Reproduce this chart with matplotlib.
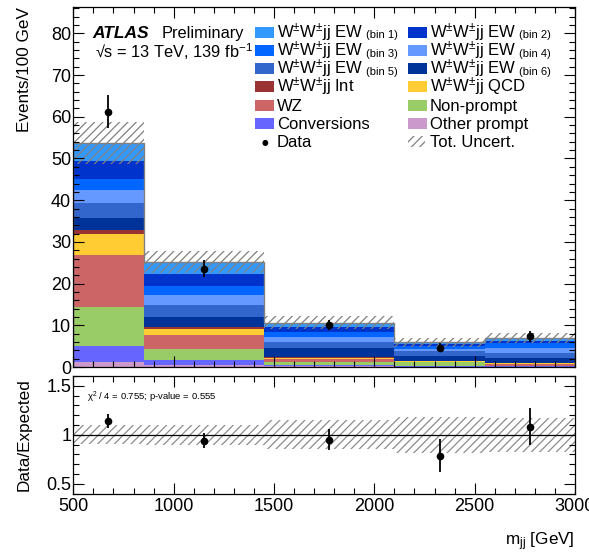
import numpy as np
import matplotlib
matplotlib.use("Agg")
import matplotlib.pyplot as plt
from matplotlib.patches import Rectangle
from matplotlib.ticker import MultipleLocator, FuncFormatter

plt.rcParams['font.family'] = ['Liberation Sans', 'DejaVu Sans']
plt.rcParams['mathtext.default'] = 'regular'
plt.rcParams['hatch.linewidth'] = 0.9

# ---------------- data ----------------
edges = [500, 850, 1450, 2100, 2550, 3000]
other_prompt = [1.2, 0.4, 0.15, 0.05, 0.05]
conversions = [3.8, 1.2, 0.40, 0.10, 0.10]
non_prompt = [9.4, 2.8, 0.75, 1.00, 0.15]
wz = [12.4, 3.2, 0.55, 0.12, 0.45]
qcd = [5.2, 1.4, 0.40, 0.08, 0.15]
interference = [0.9, 0.6, 0.25, 0.02, 0.05]
ew_bin6 = [2.9, 2.4, 2.0, 1.2, 1.15]
ew_bin5 = [3.5, 2.8, 1.45, 1.2, 1.2]
ew_bin4 = [3.1, 2.4, 1.35, 0.65, 1.2]
ew_bin3 = [2.8, 2.2, 1.2, 0.5, 1.2]
ew_bin2 = [4.2, 3.0, 1.2, 0.6, 0.65]
ew_bin1 = [4.3, 2.7, 0.95, 0.4, 0.5]
tot_unc = [5.1, 2.6, 1.6, 1.1, 1.2]
data_x = [675, 1150, 1775, 2325, 2775]
data_y = [61.2, 23.6, 10.1, 4.65, 7.4]
data_err = [4.0, 1.95, 1.15, 1.0, 1.3]
chi2_text = "χ$^{2}$ / 4 = 0.755; p-value = 0.555"

WW = "W$^{\\pm}$W$^{\\pm}$jj"
# (key, values, colour, legend main text, legend small suffix)
components = [
    ("other", other_prompt, "#cc99cc", "Other prompt", ""),
    ("conv", conversions, "#6666ff", "Conversions", ""),
    ("np", non_prompt, "#99cc66", "Non-prompt", ""),
    ("wz", wz, "#cc6666", "WZ", ""),
    ("qcd", qcd, "#ffcc33", WW + " QCD", ""),
    ("int", interference, "#993333", WW + " Int", ""),
    ("ew6", ew_bin6, "#003399", WW + " EW", "(bin 6)"),
    ("ew5", ew_bin5, "#3366cc", WW + " EW", "(bin 5)"),
    ("ew4", ew_bin4, "#6699ff", WW + " EW", "(bin 4)"),
    ("ew3", ew_bin3, "#0066ff", WW + " EW", "(bin 3)"),
    ("ew2", ew_bin2, "#0033cc", WW + " EW", "(bin 2)"),
    ("ew1", ew_bin1, "#3399ff", WW + " EW", "(bin 1)"),
]
legend_col1 = ["ew1", "ew3", "ew5", "int", "wz", "conv", "data"]
legend_col2 = ["ew2", "ew4", "ew6", "qcd", "np", "other", "unc"]

W, H = 589, 552
edges_a = np.array(edges, dtype=float)
fig = plt.figure(figsize=(W / 100, H / 100), dpi=100)
ax = fig.add_axes([73.3 / W, 1 - 367 / H, 501.7 / W, 360.3 / H])
rax = fig.add_axes([73.3 / W, 1 - 493.5 / H, 501.7 / W, 117.5 / H])

bottom = np.zeros(len(edges) - 1)
info = {}
for key, vals, col, lab, sub in components:
    v = np.array(vals)
    ax.stairs(bottom + v, edges_a, baseline=bottom, fill=True, color=col, lw=0)
    info[key] = (col, lab, sub)
    bottom = bottom + v
total = bottom
ax.stairs(total, edges_a, baseline=0, color='#808080', lw=1.0)

unc = np.array(tot_unc)
ax.stairs(total + unc, edges_a, baseline=total - unc, fill=True,
          facecolor='none', edgecolor='#808080', hatch='////', lw=0)

ax.errorbar(data_x, data_y, yerr=data_err, fmt='o', color='black',
            ms=4.5, elinewidth=1.3, capsize=0, zorder=5)

ax.set_xlim(500, 3000)
ax.set_ylim(0, 86.4)
ax.set_xticklabels([])
ax.set_ylabel("Events/100 GeV", fontsize=12.3, loc='top')
ax.yaxis.set_label_coords(-0.083, 1.0)

# ATLAS labels
ax.text(0.037, 0.927, "ATLAS", transform=ax.transAxes, fontsize=12.5,
        fontweight='bold', fontstyle='italic', va='center', ha='left')
ax.text(0.177, 0.927, "Preliminary", transform=ax.transAxes, fontsize=11.8,
        va='center', ha='left')
ax.text(0.043, 0.874, "√s = 13 TeV, 139 fb$^{-1}$", transform=ax.transAxes,
        fontsize=11.8, va='center', ha='left')

# legend drawn in figure pixel coordinates
def fx(px):
    return px / W

def fy(py):
    return 1 - py / H

fig.canvas.draw()
renderer = fig.canvas.get_renderer()
col_x = [255, 408]
for ci, keys in enumerate([legend_col1, legend_col2]):
    x0 = col_x[ci]
    for ri, key in enumerate(keys):
        yc = 32 + 18.3 * ri
        if key == "data":
            fig.text(fx(x0 + 10), fy(yc + 1), "●", fontsize=5.5, ha='center',
                     va='center', color='black', family='DejaVu Sans')
            lab, sub = "Data", ""
        elif key == "unc":
            fig.patches.append(Rectangle((fx(x0), fy(yc + 5.5)), 17 / W, 11 / H,
                                         transform=fig.transFigure, facecolor='none',
                                         edgecolor='#808080', hatch='////', lw=0))
            lab, sub = "Tot. Uncert.", ""
        else:
            col, lab, sub = info[key]
            fig.patches.append(Rectangle((fx(x0), fy(yc + 5.5)), 19 / W, 11 / H,
                                         transform=fig.transFigure, facecolor=col,
                                         edgecolor='none'))
        t = fig.text(fx(x0 + 22), fy(yc + 5.5), lab, fontsize=12.0,
                     ha='left', va='baseline')
        if sub:
            bb = t.get_window_extent(renderer)
            fig.text((bb.x1 + 3) / W, fy(yc + 6.5), sub, fontsize=8.0,
                     ha='left', va='baseline')

# ratio panel
rel = unc / total
rax.stairs(1 + rel, edges_a, baseline=1 - rel, fill=True, facecolor='none',
           edgecolor='#8c8c8c', hatch='////', lw=0)
rax.axhline(1.0, color='black', lw=0.9)
ratio = np.array(data_y) / total
ratio_err = np.array(data_err) / total
rax.errorbar(data_x, ratio, yerr=ratio_err, fmt='o', color='black',
             ms=4.5, elinewidth=1.3, capsize=0, zorder=5)
rax.set_xlim(500, 3000)
rax.set_ylim(0.4, 1.6)
rax.yaxis.set_major_locator(MultipleLocator(0.5))
rax.yaxis.set_minor_locator(MultipleLocator(0.1))
rax.yaxis.set_major_formatter(FuncFormatter(lambda v, p: f"{v:g}"))
rax.set_ylabel("Data/Expected", fontsize=12.3)
rax.yaxis.set_label_coords(-0.083, 0.5)
rax.set_xlabel("m$_{jj}$ [GeV]", fontsize=12.3, loc='right')
rax.xaxis.set_label_coords(1.0, -0.41)
rax.xaxis.label.set_va('center')
rax.text(0.027, 0.815, chi2_text, transform=rax.transAxes, fontsize=6.8,
         va='center', ha='left')

for a in (ax, rax):
    a.xaxis.set_major_locator(MultipleLocator(500))
    a.xaxis.set_minor_locator(MultipleLocator(100))
    a.tick_params(which='both', direction='in', top=True, right=True,
                  labelsize=13, width=0.8)
    a.tick_params(axis='y', which='both', pad=1.5)
    a.tick_params(which='major', length=8)
    a.tick_params(which='minor', length=4)
    for s in a.spines.values():
        s.set_linewidth(0.9)
ax.yaxis.set_major_locator(MultipleLocator(10))
ax.yaxis.set_minor_locator(MultipleLocator(2))

fig.savefig("out.png", dpi=100)
